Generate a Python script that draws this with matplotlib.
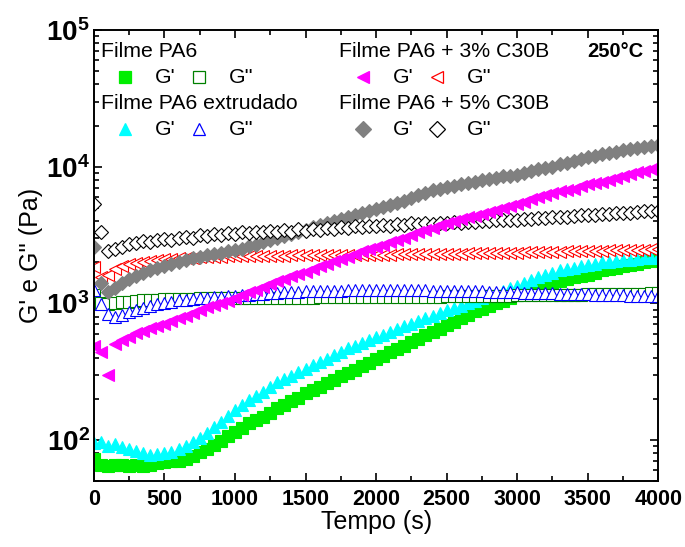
import math

import matplotlib
matplotlib.use("Agg")
import matplotlib.pyplot as plt
from matplotlib.ticker import MultipleLocator, LogLocator, FuncFormatter, NullFormatter

plt.rcParams['font.family'] = ['Liberation Sans', 'DejaVu Sans']
plt.rcParams['mathtext.fontset'] = 'custom'
plt.rcParams['mathtext.rm'] = 'Liberation Sans'
plt.rcParams['mathtext.bf'] = 'Liberation Sans:bold'

# === Data ===
tempo = list(range(0, 4001, 50))   # s

pa6_gp = [72, 66, 64, 65, 66, 64, 65, 64, 66, 68, 69, 70, 70, 72, 76, 82, 86, 92, 98, 106,
          115, 123, 132, 140, 148, 158, 170, 180, 191, 204, 219, 232, 245, 260, 275, 292,
          309, 327, 347, 367, 389, 412, 437, 462, 490, 519, 550, 582, 617, 653, 692, 733,
          776, 822, 871, 912, 955, 1000, 1047, 1096, 1148, 1202, 1259, 1303, 1349, 1396,
          1445, 1496, 1549, 1585, 1622, 1679, 1738, 1778, 1820, 1862, 1905, 1950, 1995,
          2042, 2089]
pa6_gpp = [1150, 1010, 990, 1000, 1015, 1030, 1040, 1050, 1058, 1065, 1070, 1075, 1078,
           1080, 1082, 1084, 1086, 1088, 1089, 1090,
           1091, 1092, 1093, 1094, 1095, 1096, 1097, 1098, 1099, 1100, 1101, 1102, 1103,
           1104, 1105, 1106, 1107, 1108, 1109, 1110, 1111, 1112, 1113, 1114, 1115, 1116,
           1117, 1118, 1119, 1120, 1121,
           1123, 1125, 1127, 1129, 1131, 1133, 1135, 1137, 1139, 1141, 1143, 1145, 1147,
           1149, 1151, 1153, 1155, 1157, 1159, 1161, 1163, 1165, 1167, 1169, 1171, 1173,
           1175, 1177, 1179, 1181]
ext_gp = [95, 96, 90, 94, 88, 86, 83, 80, 78, 79, 80, 82, 85, 90, 96, 104, 113, 124, 136, 150,
          166, 180, 195, 209, 224, 243, 263, 279, 295, 313, 331, 351, 372, 394, 417, 442,
          468, 490, 513, 537, 562, 589, 617, 646, 676, 708, 741, 776, 813, 851, 891, 923,
          955, 1000, 1047, 1084, 1122, 1175, 1230, 1288, 1349, 1413, 1479, 1549, 1622,
          1679, 1738, 1778, 1820, 1862, 1905, 1950, 1995, 2018, 2042, 2065, 2089, 2113,
          2138, 2163, 2188]
ext_gpp = [1250, 980, 830, 800, 820, 860, 900, 930, 960, 985, 1010, 1030, 1050, 1065, 1080,
           1090, 1100, 1110, 1120, 1125, 1135, 1145, 1155, 1165, 1175, 1185, 1195, 1205,
           1210, 1215, 1220, 1225, 1230, 1235, 1240, 1240, 1245, 1245, 1250, 1250, 1250,
           1250, 1250, 1250, 1248, 1246, 1244, 1242, 1240, 1238, 1235, 1232, 1229, 1226,
           1223, 1220, 1217, 1214, 1210, 1206, 1202, 1198, 1194, 1190, 1186, 1182, 1178,
           1174, 1170, 1166, 1162, 1158, 1154, 1150, 1146, 1142, 1138, 1134, 1130, 1126,
           1122]
c3_gp = [490, 440, 300, 505, 537, 562, 603, 631, 661, 684, 708, 741, 776, 813, 851, 891,
         933, 966, 1000, 1047, 1096, 1148, 1202, 1259, 1318, 1380, 1445, 1514, 1585, 1641,
         1698, 1778, 1862, 1950, 2042, 2113, 2188, 2291, 2399, 2483, 2570, 2692, 2818,
         2917, 3020, 3162, 3311, 3428, 3548, 3715, 3890, 4027, 4169, 4266, 4365, 4519,
         4677, 4842, 5012, 5188, 5370, 5559, 5754, 5957, 6166, 6383, 6607, 6761, 6918,
         7161, 7413, 7586, 7762, 8035, 8318, 8610, 8913, 9120, 9333, 9661, 10000]
c3_gpp = [1850, 1550, 1600, 1780, 1870, 1930, 1980, 2020, 2050, 2080, 2100, 2115, 2130,
          2145, 2160, 2170, 2180, 2190, 2195, 2200, 2205,
          2210, 2215, 2220, 2225, 2230, 2232, 2235, 2238, 2240, 2243, 2245, 2248, 2250,
          2252, 2255, 2257, 2260, 2262, 2265, 2268,
          2270, 2273, 2276, 2280, 2283, 2286, 2290, 2293, 2296, 2300, 2305, 2310, 2315,
          2320, 2325, 2330, 2335, 2340, 2345, 2350,
          2355, 2362, 2369, 2376, 2383, 2390, 2397, 2404, 2411, 2418, 2425, 2432, 2439,
          2446, 2453, 2460, 2467, 2474, 2482, 2490]
c5_gp = [2600, 1400, 1200, 1288, 1413, 1514, 1585, 1660, 1738, 1799, 1862, 1928, 1995,
         2065, 2138, 2188, 2239, 2291, 2344, 2399, 2455, 2512, 2630, 2692, 2818, 2884,
         3020, 3090, 3236, 3311, 3467, 3589, 3715, 3846, 3981, 4121, 4266, 4416, 4571,
         4732, 4898, 5070, 5248, 5433, 5623, 5888, 6166, 6457, 6761, 6918, 7079, 7244,
         7413, 7586, 7762, 7943, 8128, 8318, 8511, 8610, 8710, 9016, 9333, 9550, 9772,
         10000, 10471, 10715, 10965, 11350, 11749, 12023, 12303, 12589, 12882, 13183,
         13490, 13804, 13964, 14125, 14454]
c5_gpp = [5300, 3300, 2400, 2500, 2600, 2700, 2750, 2850, 2800, 2900, 2950, 2900, 3000,
          3050, 3000, 3150, 3100, 3200, 3150, 3250, 3200, 3300, 3250, 3350, 3300, 3400,
          3350, 3450, 3350, 3500, 3400, 3500, 3450, 3550, 3500, 3600, 3550, 3650, 3600,
          3700, 3650, 3750, 3700, 3800, 3750, 3850, 3800, 3850, 3800, 3900, 3850, 3950,
          3900, 3950, 3950, 4000, 4000, 4050, 4050, 4100, 4100, 4150, 4150, 4200, 4200,
          4250, 4300, 4300, 4350, 4400, 4400, 4450, 4500, 4500, 4550, 4600, 4600, 4650,
          4700, 4700, 4750]

# === Styles ===
MS = 8.5
series = [
    (pa6_gp, dict(marker='s', color='#00ee00', mfc='#00ee00', mec='#00ee00')),
    (ext_gp, dict(marker='^', color='#00ffff', mfc='#00ffff', mec='#00ffff')),
    (pa6_gpp, dict(marker='s', color='#008000', mfc='white', mec='#008000')),
    (ext_gpp, dict(marker='^', color='#0000ff', mfc='white', mec='#0000ff')),
    (c3_gpp, dict(marker='<', color='#ff0000', mfc='white', mec='#ff0000')),
    (c5_gp, dict(marker='D', color='#808080', mfc='#808080', mec='#808080')),
    (c5_gpp, dict(marker='D', color='black', mfc='white', mec='black')),
    (c3_gp, dict(marker='<', color='#ff00ff', mfc='#ff00ff', mec='#ff00ff')),
]

fig = plt.figure(figsize=(6.85, 5.47), dpi=100)
ax = fig.add_axes([0.137, 0.1207, 0.824, 0.8243])

for y, st in series:
    ms = MS - 1 if st['marker'] == 'D' else MS
    ax.plot(tempo, y, ls='none', ms=ms, mew=0.8, **st)

ax.set_yscale('log')
ax.set_xlim(0, 4000)
ax.set_ylim(50, 1e5)

ax.xaxis.set_major_locator(MultipleLocator(500))
ax.xaxis.set_minor_locator(MultipleLocator(250))
ax.yaxis.set_major_locator(LogLocator(base=10, numticks=10))
ax.yaxis.set_minor_locator(LogLocator(base=10, subs=range(2, 10), numticks=20))
ax.yaxis.set_minor_formatter(NullFormatter())
ax.yaxis.set_major_formatter(FuncFormatter(
    lambda v, p: r'$\mathbf{10^{%d}}$' % round(math.log10(v))))

ax.tick_params(which='both', direction='in', top=True, right=True, width=1.2)
ax.tick_params(which='major', length=6)
ax.tick_params(which='minor', length=3.5)
ax.tick_params(axis='x', labelsize=15.5, pad=6)
ax.tick_params(axis='y', labelsize=20, pad=3)
for lab in ax.get_xticklabels():
    lab.set_fontweight('bold')
for sp in ax.spines.values():
    sp.set_linewidth(1.4)

ax.set_xlabel('Tempo (s)', fontsize=18, labelpad=0)
ax.set_ylabel("G' e G'' (Pa)", fontsize=18, labelpad=2)

# === Legend drawn by hand ===
def ax_xy(px, py):
    return (px - 94) / 564, (481 - py) / 451

groups = [
    ("Filme PA6", 101, 51, series[0][1], series[2][1]),
    ("Filme PA6 extrudado", 101, 103, series[1][1], series[3][1]),
    ("Filme PA6 + 3% C30B", 339, 51, series[7][1], series[4][1]),
    ("Filme PA6 + 5% C30B", 339, 103, series[5][1], series[6][1]),
]
for title, px, py, st1, st2 in groups:
    x, y = ax_xy(px, py)
    ax.text(x, y, title, transform=ax.transAxes, fontsize=15.3, va='center', ha='left')
    mx1, my = ax_xy(px + 24, py + 26)
    mx2, _ = ax_xy(px + 98, py + 26)
    ax.plot([mx1], [my], transform=ax.transAxes, ls='none', ms=8, mew=0.9, **st1)
    ax.plot([mx2], [my], transform=ax.transAxes, ls='none', ms=8, mew=0.9, **st2)
    tx1, _ = ax_xy(px + 54, py + 26)
    tx2, _ = ax_xy(px + 128, py + 26)
    ax.text(tx1, my, "G'", transform=ax.transAxes, fontsize=15.3, va='center')
    ax.text(tx2, my, "G''", transform=ax.transAxes, fontsize=15.3, va='center')

x, y = ax_xy(643, 51)
ax.text(x, y, "250°C", transform=ax.transAxes, fontsize=14.5, fontweight='bold',
        va='center', ha='right')

fig.savefig('out.png', dpi=100)
